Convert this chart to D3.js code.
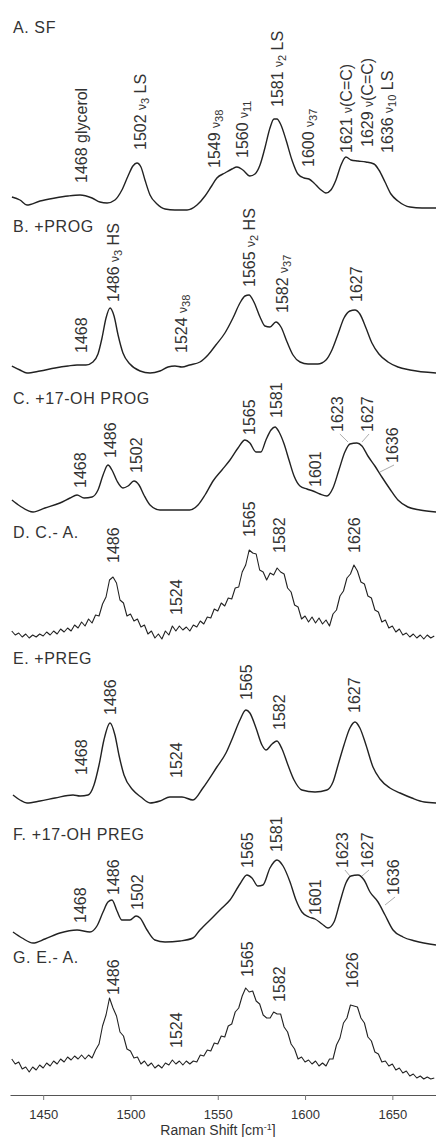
<!DOCTYPE html>
<html>
<head>
<meta charset="utf-8">
<script src="https://cdn.jsdelivr.net/npm/d3@7"></script>
<style>
body { margin: 0; background: #fff; }
text { font-family: "Liberation Sans", Arial, sans-serif; fill: #333; }
</style>
</head>
<body>
<script>
// spectra: [Raman shift (cm-1), intensity above the panel baseline]
var specA = [[1432.1,13],[1436.7,10],[1440.7,5],[1448.2,9],[1456.8,12],[1464.2,14],[1471.1,15],[1478,12],[1482.5,8],[1486.6,7],
  [1491.1,10],[1495.1,20],[1498.6,34],[1501.4,44],[1503.7,47],[1506,43],[1508.3,30],[1511.2,15],[1515.2,6],[1519.8,1],
  [1525.5,0],[1532.4,0],[1538.1,5],[1542.7,14],[1546.1,23],[1549.5,32],[1554.1,37],[1558.1,41],[1561,43],[1564.4,40],
  [1568.4,34],[1571.3,36],[1574.2,45],[1577,62],[1579.9,82],[1582.2,91],[1583.9,91],[1586.2,85],[1589.1,70],[1592.5,50],
  [1595.9,36],[1599.4,32],[1602.2,31],[1605.1,27],[1608.5,21],[1612,17],[1614.8,20],[1617.7,30],[1620.6,45],[1623.4,53],
  [1626.3,50],[1630.3,49],[1634.9,48],[1639.5,46],[1642.3,40],[1645.8,28],[1649.2,16],[1653.2,9],[1660.1,3],[1667,2],[1675,2]];

var specB = [[1432.1,7],[1436.7,3],[1440.7,0],[1448.2,2],[1456.8,5],[1464.2,7],[1469.4,8],[1474.5,8],[1478.5,11],[1481.4,19],
  [1483.7,35],[1486,55],[1488.3,65],[1490.6,57],[1492.9,38],[1495.7,20],[1499.7,9],[1505.5,2],[1511.2,0],[1516.9,2],
  [1521.5,6],[1525.5,7],[1529.5,6],[1533.9,8],[1539.8,11],[1544.4,18],[1548.9,28],[1554.1,40],[1558.7,55],[1562.7,70],
  [1565.6,77],[1567.9,78],[1570.7,71],[1574.2,56],[1577,47],[1579.9,46],[1583.3,51],[1586.2,46],[1589.7,31],[1593.1,18],
  [1597.1,11],[1601.7,9],[1607.3,9],[1612,13],[1615.4,23],[1618.9,39],[1622.3,55],[1625.7,62],[1628.6,63],[1631.4,59],
  [1634.9,45],[1638.3,30],[1642.3,19],[1647.5,11],[1653.2,6],[1660.1,3],[1675,0]];

var specC = [[1432.1,12],[1436.7,6],[1444.2,0],[1451,4],[1459.6,9],[1465.4,14],[1469.4,17],[1473.4,14],[1478,15],[1481.4,22],
  [1484.3,37],[1487.1,47],[1489.4,42],[1492.3,31],[1495.7,24],[1498.6,26],[1502,31],[1504.9,27],[1507.7,17],[1511.2,7],
  [1516.9,2],[1525.5,2],[1533.9,2],[1538.7,7],[1542.7,17],[1547.3,31],[1552.4,42],[1557,52],[1561.6,64],[1565.6,72],
  [1568.4,69],[1571.9,60],[1574.7,60],[1577.6,72],[1580.5,82],[1582.8,85],[1585.1,80],[1588,68],[1590.8,52],[1593.7,36],
  [1597.1,26],[1601.1,23],[1604.5,21],[1608.5,18],[1612.5,16],[1616,24],[1619.4,42],[1622.8,60],[1625.7,68],[1629.7,69],
  [1632.6,66],[1636,56],[1640,46],[1644,35],[1648.6,23],[1653.2,12],[1658.9,5],[1665.8,2],[1675,0]];

// difference spectra are sampled every 2 cm-1 from 1432
var shiftStart = 1432, shiftStep = 2;
var specD = [6,2,4,0,3,-1,2,0,3,1,5,2,6,3,8,5,9,6,12,9,15,11,18,14,22,21,33,40,57,60,
  54,37,34,21,23,16,18,10,12,3,6,-1,3,-2,6,2,11,6,11,7,10,6,12,10,16,13,20,19,28,26,
  34,31,39,38,49,50,65,72,87,84,83,67,65,57,64,62,69,65,63,49,45,32,30,18,21,15,20,14,19,13,
  17,11,23,27,41,46,59,63,72,66,55,53,41,39,27,25,15,17,9,11,5,8,2,4,0,3,-1,2,-2,2,-1,1];

var specE = [[1432.7,8],[1436.7,3],[1440.7,0],[1448.2,2],[1456.8,5],[1467.1,8],[1471.1,7],[1475.7,8],[1479.1,18],[1482,38],
  [1484.8,63],[1488.3,80],[1491.1,68],[1493.4,48],[1496.3,28],[1501.4,13],[1506,6],[1511.2,0],[1516.9,2],[1522.6,6],
  [1529.5,6],[1535.8,3],[1541.5,15],[1549.5,36],[1554.7,50],[1558.7,66],[1562.7,83],[1566.1,93],[1568.4,90],[1571.9,75],
  [1575.3,58],[1577.6,53],[1581.1,59],[1583.9,62],[1586.8,54],[1590.2,38],[1593.7,23],[1598.2,13],[1605.7,11],[1612.5,13],
  [1616,21],[1618.9,38],[1622.3,58],[1625.7,75],[1628.6,81],[1631.4,75],[1634.9,58],[1638.9,36],[1642.9,24],[1648.6,15],
  [1654.4,10],[1661.2,5],[1668.3,1],[1675,0]];

var specF = [[1432.7,13],[1437.9,7],[1444.2,2],[1451,6],[1459.6,12],[1469.4,15],[1476.8,13],[1480.8,19],[1484.3,33],[1487.1,43],
  [1489.4,45],[1492.3,34],[1495.1,25],[1499.7,25],[1503.2,29],[1505.5,27],[1509.5,15],[1514,5],[1519.8,3],[1528.4,4],
  [1535.8,7],[1539.8,15],[1547.3,28],[1552.4,37],[1557,45],[1562.7,61],[1566.7,70],[1569.6,67],[1573,59],[1575.9,60],
  [1579.9,77],[1583.9,85],[1587.4,79],[1591.4,63],[1594.8,45],[1598.2,33],[1602.2,28],[1605.7,26],[1609.7,21],[1613.1,17],
  [1616.6,23],[1620,43],[1623.4,62],[1626.3,69],[1630.3,70],[1633.8,65],[1637.2,53],[1641.8,43],[1645.8,30],[1650.4,15],
  [1656.1,8],[1663,4],[1675,0]];

var specG = [19,14,16,9,11,6,11,8,13,10,15,12,17,14,19,16,21,18,22,19,23,19,23,20,28,34,52,63,80,70,
  62,46,42,29,27,20,21,14,17,12,15,10,13,10,15,13,18,14,17,13,17,14,17,16,23,22,28,27,35,34,
  42,41,52,54,66,70,82,90,86,87,77,74,63,60,60,66,64,64,51,46,34,29,19,21,16,18,14,17,12,15,
  12,19,19,33,40,55,60,73,72,71,60,55,41,37,26,24,16,17,12,14,8,10,5,7,2,4,0,2,-1,1,-1,0];

// peak labels: [Raman shift, height of label foot, text, optional leader end shift, leader end height]
var labelsA = [[1472.2,27,"1468 glycerol"],[1505.5,60,"1502 ν{3} LS"],[1548.4,42,"1549 ν{38}"],[1563.9,52,"1560 ν{11}"],
  [1584.5,103,"1581 ν{2} LS"],[1601.7,43,"1600 ν{37}"],[1624,57,"1621 ν(C=C)"],[1635.5,63,"1629 ν(C=C)"],[1647.5,57,"1636 ν{10} LS"]];
var labelsB = [[1472.2,20,"1468"],[1490,71,"1486 ν{3} HS"],[1529.5,20,"1524 ν{38}"],[1568.4,86,"1565 ν{2} HS"],
  [1586.8,60,"1582 ν{37}"],[1629.7,71,"1627"]];
var labelsC = [[1471.1,24,"1468"],[1488.3,54,"1486"],[1503.7,39,"1502"],[1568.4,77,"1565"],[1583.9,94,"1581"],
  [1605.7,25,"1601"],[1618.8,80,"1623",1624.6,70],[1635.5,80,"1627",1632.6,70],[1649.8,49,"1636",1642.9,40]];
var labelsD = [[1490,74,"1486"],[1526.6,22,"1524"],[1568.4,100,"1565"],[1585.6,84,"1582"],[1628.6,84,"1626"]];
var labelsE = [[1472.2,28,"1468"],[1488.3,88,"1486"],[1526.6,25,"1524"],[1566.7,103,"1565"],[1585.6,73,"1582"],[1628.6,90,"1627"]];
var labelsF = [[1471.1,22,"1468"],[1490,50,"1486"],[1504.3,35,"1502"],[1567.3,77,"1565"],[1583.9,93,"1581"],
  [1605.7,30,"1601"],[1621.7,77,"1623",1625.7,69],[1635.5,77,"1627",1632.6,69],[1650.4,50,"1636",1645.8,40]];
var labelsG = [[1490,83,"1486"],[1526.6,30,"1524"],[1567.3,101,"1565"],[1585.6,76,"1582"],[1627.4,90,"1626"]];

var panelNames = ["A. SF", "B. +PROG", "C. +17-OH PROG", "D. C.- A.", "E. +PREG", "F. +17-OH PREG", "G. E.- A."];
var tickValues = [1450, 1500, 1550, 1600, 1650];
var axisTitle = "Raman Shift [cm";

function sampled(vals) {
  return vals.map(function (v, i) { return [shiftStart + i * shiftStep, v]; });
}

var width = 436, height = 1137;
var svg = d3.select("body").append("svg")
    .attr("width", width)
    .attr("height", height);

var x = d3.scaleLinear().domain([1431, 1675]).range([10, 436]);

// base = pixel row of zero intensity, title = baseline of the panel name
var panels = [
  { data: specA, labels: labelsA, base: 210, title: 33, noisy: false },
  { data: specB, labels: labelsB, base: 373, title: 232, noisy: false },
  { data: specC, labels: labelsC, base: 512, title: 404, noisy: false },
  { data: sampled(specD), labels: labelsD, base: 637, title: 538, noisy: true },
  { data: specE, labels: labelsE, base: 803, title: 664, noisy: false },
  { data: specF, labels: labelsF, base: 945, title: 840, noisy: false },
  { data: sampled(specG), labels: labelsG, base: 1078, title: 963, noisy: true }
];

panels.forEach(function (p, i) {
  var y = d3.scaleLinear().domain([0, 100]).range([p.base, p.base - 100]);
  var g = svg.append("g");

  g.append("text")
    .attr("x", 13)
    .attr("y", p.title)
    .style("font-size", "16px")
    .style("letter-spacing", "0.6px")
    .text(panelNames[i]);

  var line = d3.line()
    .x(function (d) { return x(d[0]); })
    .y(function (d) { return y(d[1]); })
    .curve(p.noisy ? d3.curveLinear : d3.curveMonotoneX);

  g.append("path")
    .datum(p.data)
    .attr("d", line)
    .attr("fill", "none")
    .attr("stroke", "#222")
    .attr("stroke-width", p.noisy ? 1.1 : 1.4)
    .attr("stroke-linejoin", "round");

  p.labels.forEach(function (lab) {
    if (lab.length > 3) {
      g.append("line")
        .attr("x1", x(lab[0]) + 2).attr("y1", y(lab[1]) + 2)
        .attr("x2", x(lab[3])).attr("y2", y(lab[4]))
        .attr("stroke", "#888")
        .attr("stroke-width", 0.7);
    }
    var t = g.append("text")
      .attr("transform", "translate(" + (x(lab[0]) + 5.5) + "," + y(lab[1]) + ") rotate(-90)")
      .style("font-size", "16px");
    var shift = 0;
    lab[2].split(/(ν|\{\d+\})/).forEach(function (part) {
      if (!part) return;
      var ts = t.append("tspan");
      if (part == "ν") {
        ts.style("font-size", "12px").attr("dy", -shift).text("ν");
        shift = 0;
      } else if (part[0] == "{") {
        ts.style("font-size", "11px").attr("dy", 3 - shift).text(part.slice(1, -1));
        shift = 3;
      } else {
        ts.attr("dy", -shift).text(part);
        shift = 0;
      }
    });
  });
});

// x axis
var axis = svg.append("g")
    .attr("transform", "translate(0,1095)")
    .call(d3.axisBottom(x).tickValues(tickValues).tickSize(5).tickSizeOuter(0).tickPadding(10).tickFormat(d3.format("d")));
axis.select(".domain").attr("stroke", "#555");
axis.selectAll(".tick line").attr("stroke", "#777");
axis.selectAll(".tick text")
    .style("font-size", "13px")
    .style("font-family", "'Liberation Sans', Arial, sans-serif")
    .attr("fill", "#333");

var title = svg.append("text")
    .attr("x", 218)
    .attr("y", 1135)
    .attr("text-anchor", "middle")
    .style("font-size", "14px")
    .text(axisTitle);
title.append("tspan").style("font-size", "9px").attr("dy", -5).text("-1");
title.append("tspan").attr("dy", 5).text("]");
</script>
</body>
</html>
